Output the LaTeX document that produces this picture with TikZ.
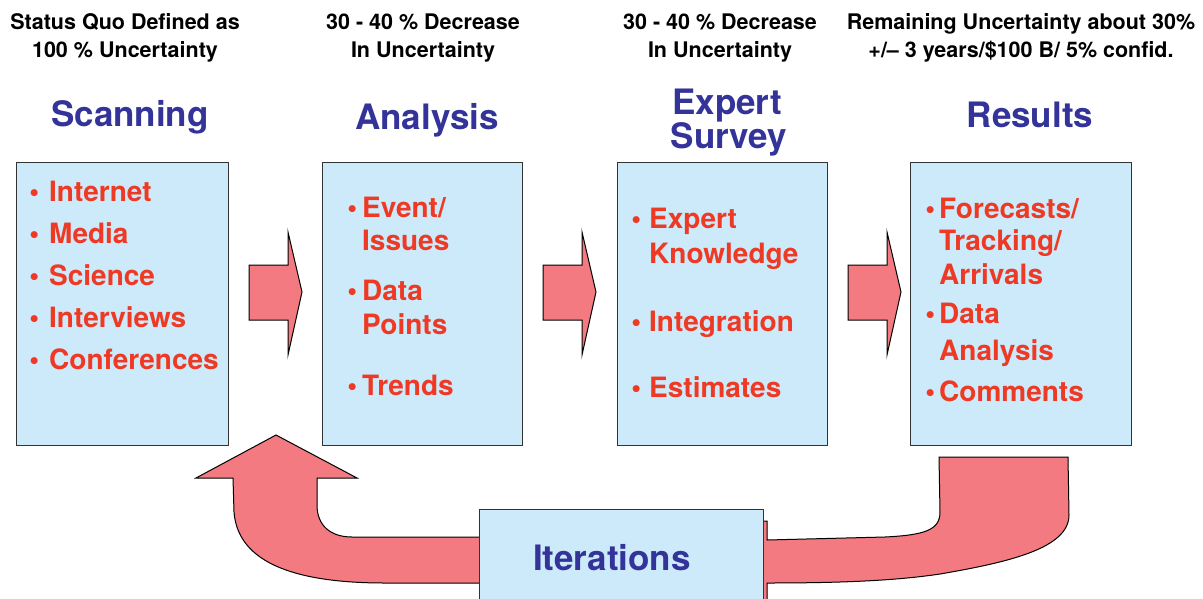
\documentclass[tikz,border=0pt]{standalone}
\usepackage{fontspec}
\setmainfont{TeX Gyre Heros}
\definecolor{boxblue}{RGB}{205,234,250}
\definecolor{titleblue}{RGB}{51,51,153}
\definecolor{itemred}{RGB}{238,58,36}
\definecolor{arrowpink}{RGB}{242,122,128}
\newcommand{\bul}[1]{\llap{\textbullet\hspace{#1}}}
\tikzset{
	stage/.style={draw=black!80,line width=1.2pt,fill=boxblue,anchor=north west,inner sep=0pt},
	title/.style={text=titleblue,font=\fontsize{35}{27}\selectfont\bfseries,anchor=base,inner sep=0pt},
	header/.style={font=\fontsize{21.5}{28}\selectfont\bfseries,anchor=base,inner sep=0pt},
	item/.style={text=itemred,font=\fontsize{28}{34}\selectfont\bfseries,anchor=base west,inner sep=0pt},
	flow/.style={draw=black,line width=1pt,fill=arrowpink,line join=miter}
}
\begin{document}
\begin{tikzpicture}[x=1pt,y=-1pt]
	\useasboundingbox (0,0) rectangle (1203,598);
	% stages
	\node[stage,minimum width=212pt,minimum height=283pt] (scan) at (16,162) {};
	\node[stage,minimum width=200pt,minimum height=283pt] (anal) at (322,162) {};
	\node[stage,minimum width=210pt,minimum height=283pt] (expert) at (617,162) {};
	\node[stage,minimum width=221pt,minimum height=283pt] (result) at (910,162) {};
	% arrows between stages
	\foreach \x in {249,543,848}
		\draw[flow] (\x,265) -- ++(39,0) -- ++(0,-33) -- ++(14,60) -- ++(-14,63) -- ++(0,-35) -- ++(-39,0) -- cycle;
	% back to scanning
	\draw[flow] (485,537) -- (352,537) .. controls (330,537) and (317,525) .. (317,505)
		-- (317,478) -- (357,478) -- (276,435) -- (196,478) -- (233,478) -- (234,512)
		.. controls (238,565) and (300,583) .. (385,583) -- (485,583) -- cycle;
	% from results
	\draw[flow] (763,606) -- (763,521) -- (767,521) -- (767,540) -- (885,537)
		.. controls (925,535) and (940,530) .. (940,512) -- (939,457) -- (1068,457) -- (1069,515)
		.. controls (1069,548) and (1010,562) .. (940,574) .. controls (900,580) and (850,583) .. (767,583)
		-- (767,606) -- cycle;
	\node[stage,minimum width=284pt,minimum height=105pt] (iter) at (479,509) {};
	\node[title] (iterlbl) at (612,570) {Iterations};
	% headers
	\node[header] (head1a) at (125,29) {Status Quo Defined as};
	\node[header] (head1b) at (125,57) {100 \% Uncertainty};
	\node[header] (head2a) at (423,29) {30 - 40 \% Decrease};
	\node[header] (head2b) at (423,57) {In Uncertainty};
	\node[header] (head3a) at (720,29) {30 - 40 \% Decrease};
	\node[header] (head3b) at (720,57) {In Uncertainty};
	\node[header] (head4a) at (1021,29) {Remaining Uncertainty about 30\%};
	\node[header] (head4b) at (1021,57) {+/– 3 years/\$100 B/ 5\% confid.};
	% titles
	\node[title] (scantitle) at (130,126) {Scanning};
	\node[title] (analtitle) at (427,129) {Analysis};
	\node[title] (experttitle) at (727,114) {Expert};
	\node[title] (surveytitle) at (729,148) {Survey};
	\node[title] (resulttitle) at (1030,127) {Results};
	% items
	\foreach \y/\t [count=\i] in {201/{\bul{10pt}Internet},243/{\bul{10pt}Media},285/{\bul{10pt}Science},
		327/{\bul{10pt}Interviews},369/{\bul{10pt}Conferences}}
		\node[item] (scan\i) at (49,\y) {\t};
	\foreach \y/\t [count=\i] in {217/{\bul{5pt}Event/},250/{Issues},300/{\bul{5pt}Data},334/{Points},395/{\bul{5pt}Trends}}
		\node[item] (anal\i) at (362,\y) {\t};
	\foreach \y/\t [count=\i] in {228/{\bul{8pt}Expert},263/{Knowledge},331/{\bul{8pt}Integration},397/{\bul{8pt}Estimates}}
		\node[item] (expert\i) at (649,\y) {\t};
	\foreach \y/\t [count=\i] in {218/{\bul{4pt}Forecasts/},250/{Tracking/},284/{Arrivals},
		323/{\bul{4pt}Data},360/{Analysis},401/{\bul{4pt}Comments}}
		\node[item] (result\i) at (939,\y) {\t};
\end{tikzpicture}
\end{document}
